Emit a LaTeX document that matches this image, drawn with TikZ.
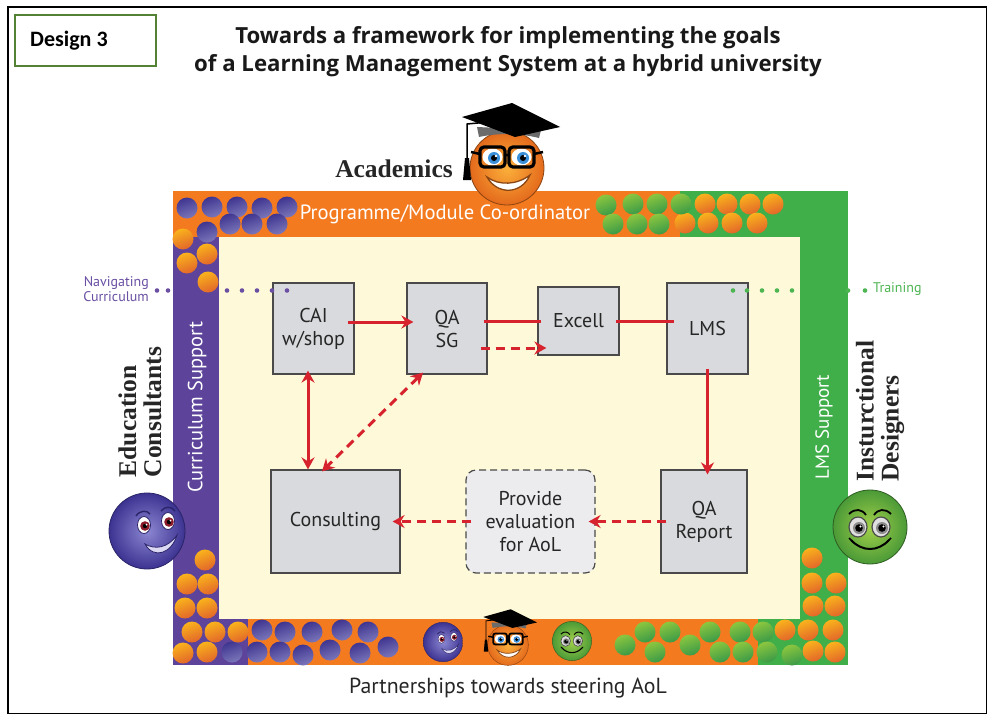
\documentclass[tikz,border=0pt]{standalone}
\usepackage{fontspec}
\setmainfont{PT Sans}
\newfontfamily\roleserif{Liberation Serif}
\newfontfamily\labelfont{Carlito}
\newfontfamily\headfont{Open Sans}
\usetikzlibrary{arrows.meta,calc}

\definecolor{bandorange}{HTML}{F47A20}
\definecolor{bandpurple}{HTML}{5D449A}
\definecolor{bandgreen}{HTML}{40AE49}
\definecolor{cream}{HTML}{FEF9D8}
\definecolor{boxgrey}{HTML}{D9DADD}
\definecolor{evalgrey}{HTML}{ECECEF}
\definecolor{boxline}{HTML}{4A4A4A}
\definecolor{arrowred}{HTML}{D7232D}
\definecolor{navpurple}{HTML}{6A4FA3}
\definecolor{traingreen}{HTML}{4DB551}
\definecolor{designgreen}{HTML}{548235}
\definecolor{dotpurpleA}{HTML}{3F3590}
\definecolor{dotpurpleB}{HTML}{7C77BA}
\definecolor{dotorangeA}{HTML}{F9B21C}
\definecolor{dotorangeB}{HTML}{E2662A}
\definecolor{dotgreenA}{HTML}{8CC63F}
\definecolor{dotgreenB}{HTML}{3A9A47}
\definecolor{faceorangeA}{HTML}{FBB03B}
\definecolor{faceorangeB}{HTML}{E46A1C}
\definecolor{faceorangeD}{HTML}{8A4512}
\definecolor{capgrey}{HTML}{6B6B6B}
\definecolor{irisblue}{HTML}{3A8FD8}
\definecolor{facepurpleA}{HTML}{8C87D2}
\definecolor{facepurpleB}{HTML}{3C3391}
\definecolor{facepurpleD}{HTML}{2A2468}
\definecolor{irismaroon}{HTML}{8B1A2B}
\definecolor{smilelilac}{HTML}{DAD8F2}
\definecolor{facegreenA}{HTML}{A2D04A}
\definecolor{facegreenB}{HTML}{4B9A37}
\definecolor{facegreenD}{HTML}{2F5E22}

% gradient dots of the frame bands
\newcommand\purpledot[2]{\shade[left color=dotpurpleA,right color=dotpurpleB,shading angle=20] (#1,#2) circle[radius=10.5];}
\newcommand\orangedot[2]{\shade[left color=dotorangeA,right color=dotorangeB,shading angle=20] (#1,#2) circle[radius=10.5];}
\newcommand\greendot[2]{\shade[left color=dotgreenA,right color=dotgreenB,shading angle=20] (#1,#2) circle[radius=10.5];}

% orange face with glasses and mortarboard
\newcommand\geekface[3]{%
\begin{scope}[shift={(#1,#2)},scale=#3]
  \shadedraw[inner color=faceorangeA,outer color=faceorangeB,draw=faceorangeD,line width=0.8*#3] (0,0) circle[radius=37];
  \fill[capgrey] (-30,-41) -- (34,-38) -- (32,-30) .. controls (12,-35) and (-10,-35) .. (-28,-31) -- cycle;
  \fill[black] (-45,-51) -- (5,-65) -- (53,-41) -- (8,-31) -- cycle;
  \draw[black,line width=1.5*#3] (3,-48) -- (-40,-44) -- (-40,-6);
  \fill[black] (-42,-10) -- (-38,-10) -- (-36,12) -- (-44,12) -- cycle;
  \fill[white] (-14.5,-11) ellipse[x radius=10,y radius=8.5];
  \fill[white] (14.5,-11) ellipse[x radius=10,y radius=8.5];
  \fill[irisblue] (-13,-10) circle[radius=6];
  \fill[irisblue] (16,-10) circle[radius=6];
  \fill[black] (-13,-10) circle[radius=3];
  \fill[black] (16,-10) circle[radius=3];
  \fill[white] (-11,-12) circle[radius=1.3];
  \fill[white] (18,-12) circle[radius=1.3];
  \draw[black,line width=3.2*#3,rounded corners=4*#3] (-27,-21) rectangle (-2,-1);
  \draw[black,line width=3.2*#3,rounded corners=4*#3] (2,-21) rectangle (27,-1);
  \draw[black,line width=2.5*#3] (-2,-13) -- (2,-13) (-27,-14) -- (-36,-16) (27,-14) -- (36,-16);
  \filldraw[fill=white,draw=faceorangeD,line width=1.3*#3] (-20,9) .. controls (-10,27) and (14,27) .. (23,7) .. controls (10,17) and (-8,18) .. (-20,9) -- cycle;
\end{scope}}

% purple face looking right
\newcommand\purpleface[3]{%
\begin{scope}[shift={(#1,#2)},scale=#3]
  \shadedraw[inner color=facepurpleA,outer color=facepurpleB,draw=facepurpleD,line width=0.8*#3] (0,0) circle[radius=38];
  \filldraw[fill=white,draw=facepurpleD,line width=0.8*#3] (-3,-6) ellipse[x radius=6.5,y radius=8.5];
  \filldraw[fill=white,draw=facepurpleD,line width=0.8*#3] (21,-10) ellipse[x radius=6.5,y radius=8.5];
  \fill[irismaroon] (-2,-5) circle[radius=4.8];
  \fill[irismaroon] (22,-9) circle[radius=4.8];
  \fill[black] (-2,-5) circle[radius=2.2];
  \fill[black] (22,-9) circle[radius=2.2];
  \fill[white] (-0.5,-6.5) circle[radius=1];
  \fill[white] (23.5,-10.5) circle[radius=1];
  \draw[facepurpleD,line width=1.4*#3] (-11,-15) .. controls (-7,-21) and (0,-21) .. (3,-17);
  \draw[facepurpleD,line width=1.4*#3] (14,-20) .. controls (18,-25) and (25,-25) .. (28,-20);
  \filldraw[fill=smilelilac,draw=facepurpleD,line width=0.8*#3] (-2,13) .. controls (7,29) and (25,22) .. (30,4) .. controls (21,17) and (8,19) .. (-2,13) -- cycle;
\end{scope}}

% green face
\newcommand\greenface[3]{%
\begin{scope}[shift={(#1,#2)},scale=#3]
  \shadedraw[inner color=facegreenA,outer color=facegreenB,draw=facegreenD,line width=0.8*#3] (0,0) circle[radius=37];
  \filldraw[fill=black!12,draw=black!70,line width=1.2*#3] (-12,0) ellipse[x radius=9,y radius=10];
  \filldraw[fill=black!12,draw=black!70,line width=1.2*#3] (11,0) ellipse[x radius=9,y radius=10];
  \fill[black!45] (-11,1) circle[radius=6];
  \fill[black!45] (12,1) circle[radius=6];
  \fill[black] (-11,1) circle[radius=3.8];
  \fill[black] (12,1) circle[radius=3.8];
  \fill[white] (-9.5,-0.5) circle[radius=1.2];
  \fill[white] (13.5,-0.5) circle[radius=1.2];
  \draw[black,line width=1.8*#3] (-21,-13) .. controls (-15,-19) and (-8,-18) .. (-4,-12);
  \draw[black,line width=1.8*#3] (4,-12) .. controls (8,-18) and (15,-19) .. (21,-13);
  \draw[black,line width=2*#3] (-19,13) .. controls (-8,25) and (8,25) .. (19,13);
  \draw[black,line width=1.5*#3] (-21,11) -- (-17,15) (21,11) -- (17,15);
\end{scope}}

\tikzset{
  stepbox/.style={draw=boxline,line width=1.2,fill=boxgrey,align=center,inner sep=0,
    font=\fontsize{20}{23}\selectfont,text=black!85},
  redline/.style={draw=arrowred,line width=3},
  reddash/.style={redline,dash pattern=on 9 off 6},
  redtip/.style={-{Stealth[length=12,width=13,inset=4]}},
  redtips/.style={{Stealth[length=12,width=13,inset=4]}-{Stealth[length=12,width=13,inset=4]}},
  bandtext/.style={text=white,inner sep=0},
  rolename/.style={inner sep=0,font=\roleserif\bfseries\fontsize{25.5}{25}\selectfont,text=black!85},
}

\begin{document}
\begin{tikzpicture}[x=1pt,y=-1pt]
\useasboundingbox (0,0) rectangle (987,715);
\fill[white] (0,0) rectangle (987,715);
\draw[black,line width=1.3] (8,7) rectangle (986.5,713.5);

% header
\draw[designgreen,line width=2.4] (15,15) rectangle (156,66);
\node[anchor=west,inner sep=0,font=\labelfont\bfseries\fontsize{22}{24}\selectfont] (design) at (30,40.5) {Design 3};
\node[align=center,inner sep=0,font=\headfont\bfseries\fontsize{22.2}{28}\selectfont,text=black!90] (title) at (508,52)
  {Towards a framework for implementing the goals\\of a Learning Management System at a hybrid university};

% coloured frame
\fill[bandorange] (173,191) rectangle (848,665);
\fill[bandgreen] (680,191) rectangle (848,237);
\fill[bandgreen] (800,191) rectangle (848,665);
\fill[bandgreen] (758,619) rectangle (848,665);
\fill[bandpurple] (173,237) rectangle (219,665);
\fill[bandpurple] (173,619) rectangle (248,665);

% dots on the frame
\foreach \x/\y in {187/208,212/207,237/207,262/208,287/207,230/224,252/224,277/224,207/232,
                   262/630,285/632,312/632,342/630,368/632,232/652,257/652,280/652,303/655,330/650,360/653,388/647}
  {\purpledot{\x}{\y}}
\foreach \x/\y in {183/239,207/254,187/263,208/282,
                   205/560,187/584,208/584,185/608,207/608,192/632,215/632,238/632,183/653,207/652,
                   705/204,727/204,750/204,773/204,685/223,708/223,732/223,757/223,
                   812/558,812/583,836/583,813/606,835/606,785/630,808/630,833/630,813/651,835/652}
  {\orangedot{\x}{\y}}
\foreach \x/\y in {606/205,633/204,657/204,681/204,613/224,637/224,659/224,
                   625/645,645/632,655/652,670/632,690/645,710/632,720/652,740/632,743/652,763/632,767/652,792/655}
  {\greendot{\x}{\y}}

% inner field
\fill[cream] (219,237) rectangle (800,619);

% band labels
\node[bandtext,font=\fontsize{20.6}{22}\selectfont] (coord) at (445,214) {Programme/Module Co-ordinator};
\node[bandtext,rotate=90,font=\fontsize{20.5}{22}\selectfont] (cursup) at (197,407) {Curriculum Support};
\node[bandtext,rotate=90,font=\fontsize{19}{22}\selectfont] (lmssup) at (824,427) {LMS Support};
\node[inner sep=0,font=\fontsize{21.8}{24}\selectfont,text=black!85] (partner) at (508,688) {Partnerships towards steering AoL};

% process steps
\node[stepbox,minimum width=81,minimum height=91] (cai) at (313.5,328.5) {CAI\\w/shop};
\node[stepbox,minimum width=80,minimum height=91] (qasg) at (447,328.5) {QA\\SG};
\node[stepbox,minimum width=81,minimum height=68] (excell) at (578.5,321) {Excell};
\node[stepbox,minimum width=81,minimum height=91] (lms) at (707.5,328.5) {LMS};
\node[stepbox,minimum width=129,minimum height=103] (consult) at (335.5,521.5) {Consulting};
\node[stepbox,fill=evalgrey,dashed,dash pattern=on 7 off 4,rounded corners=10,minimum width=129,minimum height=103] (provide) at (530.5,521.5) {Provide\\evaluation\\for AoL};
\node[stepbox,minimum width=86,minimum height=103] (qarep) at (704,521.5) {QA\\Report};

% connectors
\draw[redline,redtip] ($(cai.east)+(-7,-6.5)$) -- ($(qasg.west)+(7,-6.5)$);
\draw[redline] ($(qasg.east)+(-4,-7.5)$) -- ($(excell.west)+(4,0)$);
\draw[reddash,redtip] ($(qasg.east)+(-7,19.5)$) -- ($(excell.west)+(9,27)$);
\draw[redline] ($(excell.east)+(-4,0)$) -- ($(lms.west)+(8,-7.5)$);
\draw[redline,redtip] ($(lms.south)+(0,-6)$) -- ($(qarep.north)+(3.5,5)$);
\draw[reddash,redtip] ($(qarep.west)+(6,0)$) -- ($(provide.east)+(-7,0)$);
\draw[reddash,redtip] ($(provide.west)+(6,0)$) -- ($(consult.east)+(-8,0)$);
\draw[redline,redtips] ($(cai.south)+(-5.5,-4)$) -- ($(consult.north)+(-27.5,0)$);
\draw[reddash,redtips] ($(qasg.south)+(-24,-2)$) -- ($(consult.north)+(-13.5,2)$);

% dotted pointers
\foreach \x in {157,168,227,242,257,272,287} {\fill[navpurple] (\x,290.5) circle[radius=2.3];}
\foreach \x in {733,747,762,777,792,848,865} {\fill[traingreen] (\x,290.5) circle[radius=2.3];}
\node[anchor=east,align=right,inner sep=0,text=navpurple,font=\fontsize{14}{15.5}\selectfont] (navig) at (149,289) {Navigating\\Curriculum};
\node[anchor=west,inner sep=0,text=traingreen,font=\fontsize{14}{16}\selectfont] (train) at (873,289) {Training};

% stakeholders
\node[rolename,anchor=east] (acad) at (453,169) {Academics};
\geekface{507}{168}{1}
\node[rolename,rotate=90,align=left] (educ) at (140,412) {Education\\Consultants};
\purpleface{147}{531}{1}
\node[rolename,rotate=90,align=left] (instr) at (880,411) {Insturctional\\Designers};
\greenface{870}{527}{1}

% partners in the bottom band
\purpleface{443}{642}{0.52}
\geekface{508}{645}{0.55}
\greenface{572}{641}{0.53}
\end{tikzpicture}
\end{document}
